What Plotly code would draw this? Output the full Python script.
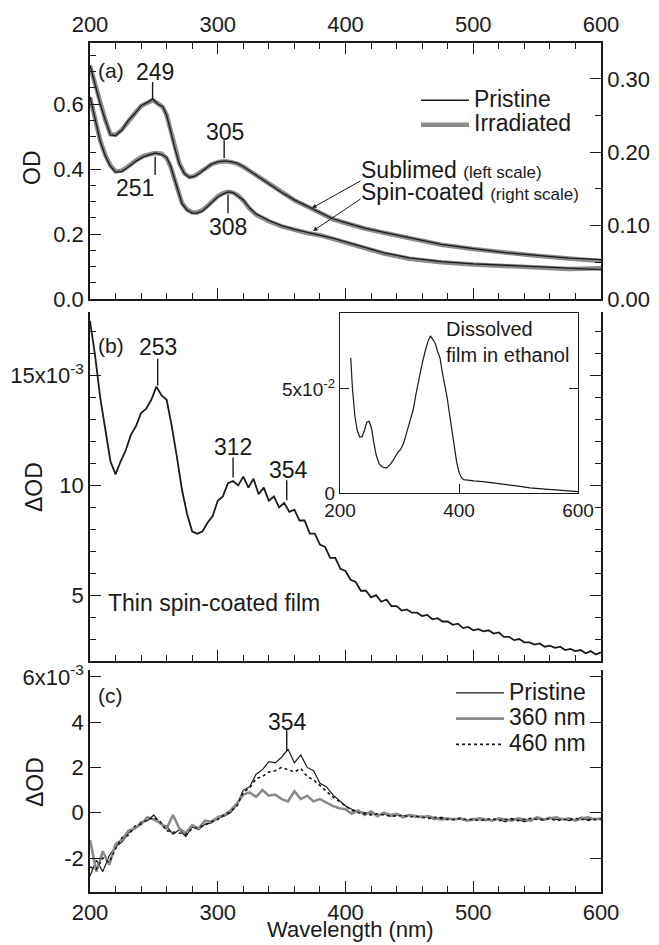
import plotly.graph_objects as go

# ---------------- data ----------------
# Panel (a): sublimed film (left scale, OD)
wl_sub = [200, 204, 208, 212, 216, 220, 225, 230, 235, 240, 245, 249, 253, 257, 260, 263, 266, 270,
          274, 278, 282, 286, 290, 295, 300, 305, 310, 315, 320, 325, 330, 335, 340, 350, 360, 370,
          380, 390, 400, 415, 430, 450, 475, 500, 525, 550, 575, 600]
sub_pristine = [0.72, 0.66, 0.60, 0.55, 0.505, 0.503, 0.52, 0.55, 0.57, 0.595, 0.605, 0.616, 0.60, 0.592,
                0.565, 0.52, 0.47, 0.415, 0.385, 0.374, 0.378, 0.388, 0.40, 0.415, 0.422, 0.425, 0.423,
                0.418, 0.408, 0.395, 0.382, 0.368, 0.355, 0.328, 0.305, 0.286, 0.266, 0.247, 0.235,
                0.218, 0.205, 0.188, 0.168, 0.155, 0.143, 0.134, 0.126, 0.121]
sub_irradiated = [0.718, 0.658, 0.601, 0.551, 0.507, 0.505, 0.521, 0.549, 0.571, 0.594, 0.604, 0.612, 0.602,
                  0.590, 0.566, 0.522, 0.471, 0.417, 0.386, 0.375, 0.379, 0.389, 0.401, 0.414, 0.421,
                  0.424, 0.422, 0.417, 0.407, 0.394, 0.381, 0.367, 0.354, 0.327, 0.304, 0.285, 0.265,
                  0.246, 0.234, 0.217, 0.204, 0.187, 0.167, 0.154, 0.142, 0.133, 0.125, 0.117]
# Panel (a): spin-coated film (right scale, OD)
wl_spin = [200, 204, 208, 212, 216, 220, 225, 230, 236, 242, 247, 251, 256, 260, 263, 266, 269, 272,
           276, 280, 284, 288, 292, 296, 300, 304, 308, 312, 316, 320, 325, 330, 340, 350, 360, 370,
           380, 390, 400, 415, 430, 450, 475, 500, 525, 550, 575, 600]
spin_pristine = [0.276, 0.245, 0.215, 0.195, 0.181, 0.173, 0.174, 0.180, 0.188, 0.194, 0.197, 0.199,
                 0.197, 0.193, 0.182, 0.165, 0.145, 0.130, 0.121, 0.117, 0.117, 0.120, 0.126, 0.133,
                 0.139, 0.143, 0.146, 0.145, 0.140, 0.135, 0.124, 0.116, 0.107, 0.100, 0.095, 0.091,
                 0.088, 0.083, 0.078, 0.071, 0.063, 0.056, 0.051, 0.048, 0.046, 0.044, 0.042, 0.040]
spin_irradiated = [0.275, 0.244, 0.216, 0.196, 0.182, 0.174, 0.175, 0.181, 0.189, 0.195, 0.198, 0.199,
                   0.198, 0.192, 0.181, 0.164, 0.146, 0.131, 0.122, 0.118, 0.118, 0.121, 0.127, 0.134,
                   0.140, 0.144, 0.146, 0.145, 0.141, 0.134, 0.123, 0.115, 0.106, 0.099, 0.094, 0.090,
                   0.087, 0.082, 0.077, 0.070, 0.062, 0.055, 0.050, 0.047, 0.045, 0.043, 0.041, 0.042]

# Panel (b): thin spin-coated film, dOD in units of 1e-3
wl_b = list(range(200, 601, 4))
dod_b = [17.5, 15.9, 14.0, 12.6, 11.1, 10.5, 11.1, 11.6, 12.3, 12.7,
         13.3, 13.5, 13.9, 14.5, 14.1, 13.9, 12.7, 11.3, 9.8, 8.7,
         7.9, 7.8, 7.9, 8.3, 8.6, 9.3, 9.5, 10.1, 10.2, 10.0,
         10.4, 9.9, 10.3, 9.6, 9.9, 9.3, 9.5, 9.0, 9.2, 8.8,
         8.9, 8.4, 8.4, 7.8, 7.8, 7.3, 7.2, 6.7, 6.7, 6.2,
         6.1, 5.7, 5.6, 5.2, 5.2, 4.9, 5.0, 4.7, 4.8, 4.5,
         4.5, 4.3, 4.35, 4.2, 4.2, 4.05, 4.1, 3.9, 3.95, 3.8,
         3.8, 3.65, 3.7, 3.5, 3.55, 3.4, 3.45, 3.35, 3.4, 3.25,
         3.3, 3.1, 3.1, 2.95, 3.0, 2.85, 2.85, 2.75, 2.8, 2.65,
         2.7, 2.6, 2.65, 2.5, 2.55, 2.45, 2.5, 2.35, 2.45, 2.3, 2.4]

# Inset: dissolved film in ethanol (OD)
wl_inset = [218, 221, 225, 229, 233, 237, 241, 245, 249, 253, 257, 261, 266, 271, 278, 284, 290, 296,
            302, 307, 312, 318, 323, 328, 333, 338, 343, 348, 352, 356, 360, 364, 368, 372, 376, 380,
            384, 388, 392, 396, 400, 404, 408, 415, 425, 440, 463, 480, 500, 519, 540, 560, 580, 600]
od_inset = [0.065, 0.050, 0.037, 0.030, 0.027, 0.027, 0.030, 0.034, 0.0345, 0.031, 0.024, 0.018,
            0.014, 0.0125, 0.012, 0.0135, 0.016, 0.019, 0.021, 0.024, 0.029, 0.035, 0.040, 0.048,
            0.056, 0.062, 0.068, 0.073, 0.0755, 0.074, 0.072, 0.068, 0.065, 0.058, 0.052, 0.046,
            0.038, 0.030, 0.022, 0.015, 0.010, 0.0075, 0.0064, 0.006, 0.0058, 0.0055, 0.0048, 0.004,
            0.0033, 0.0025, 0.002, 0.0015, 0.001, 0.0007]

# Panel (c): dOD in units of 1e-3
wl_c = list(range(200, 601, 5))
dod_pristine = [-2.8, -2.1, -2.6, -1.9, -1.5, -1.3, -0.9, -0.7, -0.4, -0.35,
                -0.1, -0.5, -0.6, -0.95, -0.75, -1.05, -0.6, -0.75, -0.5, -0.45,
                -0.25, -0.15, 0.0, 0.35, 1.0, 1.15, 1.7, 1.9, 2.25, 2.2,
                2.45, 2.8, 2.2, 2.55, 2.0, 1.85, 1.3, 1.15, 0.8, 0.55,
                0.3, 0.15, 0.05, 0.0, -0.05, -0.1, -0.05, -0.15, -0.1, -0.15,
                -0.1, -0.2, -0.15, -0.2, -0.3, -0.2, -0.3, -0.25, -0.3, -0.35,
                -0.25, -0.3, -0.35, -0.3, -0.3, -0.4, -0.25, -0.3, -0.4, -0.3,
                -0.25, -0.35, -0.2, -0.3, -0.25, -0.35, -0.3, -0.2, -0.35, -0.25, -0.3]
dod_360 = [-1.2, -2.6, -1.7, -2.3, -1.4, -1.2, -0.8, -0.7, -0.5, -0.2,
           -0.3, -0.45, -0.7, -0.1, -0.7, -0.9, -0.55, -0.7, -0.35, -0.4,
           -0.2, -0.1, 0.1, 0.4, 0.8, 0.9, 0.7, 1.0, 0.75, 0.8,
           0.6, 0.5, 0.95, 0.6, 0.75, 0.5, 0.6, 0.45, 0.3, 0.2,
           0.15, -0.05, 0.1, -0.1, 0.05, -0.15, 0.0, -0.1, -0.05, -0.2,
           -0.1, -0.15, -0.2, -0.15, -0.25, -0.3, -0.25, -0.3, -0.25, -0.35,
           -0.3, -0.25, -0.3, -0.35, -0.25, -0.3, -0.35, -0.25, -0.3, -0.35,
           -0.2, -0.3, -0.25, -0.2, -0.3, -0.25, -0.35, -0.25, -0.2, -0.3, -0.25]
dod_460 = [-2.4, -2.5, -2.0, -2.2, -1.6, -1.1, -1.0, -0.6, -0.5, -0.3,
           -0.2, -0.4, -0.8, -0.85, -0.9, -0.95, -0.7, -0.65, -0.55, -0.4,
           -0.3, -0.1, 0.05, 0.3, 0.9, 1.1, 1.5, 1.6, 1.8, 1.85,
           2.0, 1.9, 1.8, 1.95, 1.6, 1.45, 1.2, 0.95, 0.7, 0.5,
           0.3, 0.1, 0.0, -0.05, -0.1, -0.05, -0.1, -0.15, -0.15, -0.1,
           -0.2, -0.15, -0.2, -0.25, -0.2, -0.25, -0.3, -0.3, -0.25, -0.3,
           -0.3, -0.35, -0.3, -0.25, -0.35, -0.3, -0.3, -0.35, -0.3, -0.25,
           -0.3, -0.3, -0.25, -0.35, -0.3, -0.3, -0.25, -0.3, -0.3, -0.3, -0.3]

# ---------------- layout helpers ----------------
W, H = 659, 945
def px(x): return x / W
def py(y): return 1 - y / H

FONT = "Liberation Sans, Arial, Helvetica, sans-serif"
INK = "#1a1a1a"
GRAY = "#8a8a8a"
TFS = 22   # tick label size
LFS = 23   # other text size
XD = [px(90), px(601)]

def big(s):
    return "<span style='font-size:%dpx'>%s</span>" % (LFS, s)

fig = go.Figure()

# Panel (a)
fig.add_trace(go.Scatter(x=wl_sub, y=sub_irradiated, xaxis="x", yaxis="y", mode="lines",
                         line=dict(color=GRAY, width=4.5), name=big("Irradiated"), legend="legend", legendrank=2))
fig.add_trace(go.Scatter(x=wl_sub, y=sub_pristine, xaxis="x", yaxis="y", mode="lines",
                         line=dict(color=INK, width=1.3), name=big("Pristine"), legend="legend", legendrank=1))
fig.add_trace(go.Scatter(x=wl_spin, y=spin_irradiated, xaxis="x", yaxis="y2", mode="lines",
                         line=dict(color=GRAY, width=4.5), showlegend=False))
fig.add_trace(go.Scatter(x=wl_spin, y=spin_pristine, xaxis="x", yaxis="y2", mode="lines",
                         line=dict(color=INK, width=1.3), showlegend=False))
# Panel (b)
fig.add_trace(go.Scatter(x=wl_b, y=dod_b, xaxis="x2", yaxis="y3", mode="lines",
                         line=dict(color=INK, width=1.8), showlegend=False))
# Inset
fig.add_trace(go.Scatter(x=wl_inset, y=od_inset, xaxis="x4", yaxis="y5", mode="lines",
                         line=dict(color=INK, width=1.2), showlegend=False))
# Panel (c)
fig.add_trace(go.Scatter(x=wl_c, y=dod_pristine, xaxis="x3", yaxis="y4", mode="lines",
                         line=dict(color=INK, width=1.2), name=big("Pristine"), legend="legend2", legendrank=1))
fig.add_trace(go.Scatter(x=wl_c, y=dod_360, xaxis="x3", yaxis="y4", mode="lines",
                         line=dict(color=GRAY, width=2.6), name=big("360 nm"), legend="legend2", legendrank=2))
fig.add_trace(go.Scatter(x=wl_c, y=dod_460, xaxis="x3", yaxis="y4", mode="lines",
                         line=dict(color=INK, width=1.6, dash="dot"), name=big("460 nm"), legend="legend2", legendrank=3))

tickfont = dict(size=TFS, color=INK, family=FONT)
def xax(**kw):
    d = dict(domain=XD, range=[200, 600], tick0=0, dtick=100, ticks="inside", ticklen=11, tickwidth=1.3,
             tickcolor=INK, showline=True, linecolor=INK, linewidth=1.5, showgrid=False, zeroline=False,
             automargin=False,
             minor=dict(dtick=20, tick0=0, ticklen=6, ticks="inside", tickcolor=INK, tickwidth=1.2),
             tickfont=tickfont)
    d.update(kw)
    return d

def yax(**kw):
    d = dict(ticks="inside", ticklen=11, tickwidth=1.3, tickcolor=INK, showline=True, linecolor=INK,
             linewidth=1.5, showgrid=False, zeroline=False, tickfont=tickfont, automargin=False)
    d.update(kw)
    return d

fig.update_layout(
    width=W, height=H, margin=dict(l=0, r=0, t=0, b=0, pad=0, autoexpand=False),
    paper_bgcolor="white", plot_bgcolor="white",
    font=dict(family=FONT, color=INK, size=LFS),
    xaxis=xax(anchor="y", side="top", mirror="ticks"),
    yaxis=yax(domain=[py(299), py(43)], anchor="x", range=[0, 0.788], dtick=0.2, tick0=0,
              tickformat=".1f", minor=dict(dtick=0.05, ticklen=6, ticks="inside", tickcolor=INK)),
    yaxis2=yax(overlaying="y", side="right", anchor="x", range=[0, 0.349], dtick=0.1, tick0=0,
               tickformat=".2f", minor=dict(dtick=0.05, ticklen=6, ticks="inside", tickcolor=INK)),
    xaxis2=xax(anchor="y3", showticklabels=False),
    yaxis3=yax(domain=[py(661), py(312)], anchor="x2", range=[2.0, 17.9], dtick=5, tick0=0, mirror="ticks",
               labelalias={"15": "15x10<sup>-3</sup>"},
               minor=dict(dtick=1, tick0=0, ticklen=6, ticks="inside", tickcolor=INK)),
    xaxis3=xax(anchor="y4"),
    yaxis4=yax(domain=[py(892), py(670)], anchor="x3", range=[-3.5, 6.3], dtick=2, tick0=0, mirror="ticks",
               labelalias={"6": "6x10<sup>-3</sup>", "\u22122": "-2"}),
    xaxis4=dict(domain=[px(340), px(578)], anchor="y5", range=[200, 600], dtick=200, tick0=0,
                ticks="inside", ticklen=9, tickcolor=INK, showline=True, linecolor=INK, linewidth=1.3,
                mirror=True, showgrid=False, zeroline=False, automargin=False,
                tickfont=dict(size=19, color=INK, family=FONT)),
    yaxis5=dict(domain=[py(493), py(313)], anchor="x4", range=[0, 0.0865], dtick=0.05, tick0=0,
                ticks="inside", ticklen=9, tickcolor=INK, showline=True, linecolor=INK, linewidth=1.3,
                mirror="ticks", showgrid=False, zeroline=False, automargin=False,
                labelalias={"0.05": "5x10<sup>-2</sup>"}, tickfont=dict(size=19, color=INK, family=FONT)),
    legend=dict(x=px(416), y=py(83), xanchor="left", yanchor="top", bgcolor="rgba(0,0,0,0)",
                font=dict(size=16.5, family=FONT, color=INK), tracegroupgap=0, itemwidth=48),
    legend2=dict(x=px(451), y=py(675), xanchor="left", yanchor="top", bgcolor="rgba(0,0,0,0)",
                 font=dict(size=17.5, family=FONT, color=INK), tracegroupgap=0, itemwidth=48),
)

# Text labels
def txt(x, y, s, xa="center", size=LFS, angle=0, ya="middle"):
    return dict(xref="paper", yref="paper", x=px(x), y=py(y), text=s, showarrow=False,
                xanchor=xa, yanchor=ya, textangle=angle, align="left",
                font=dict(size=size, family=FONT, color=INK))

ann = [
    txt(96, 70, "(a)", xa="left", size=21),
    txt(155, 72, "249"), txt(225, 132, "305"), txt(135, 188, "251"), txt(228, 227, "308"),
    txt(359, 170, "Sublimed <span style='font-size:17px'>(left scale)</span>", xa="left"),
    txt(359, 192, "Spin-coated <span style='font-size:17px'>(right scale)</span>", xa="left"),
    txt(96, 345, "(b)", xa="left", size=21),
    txt(158, 347, "253"), txt(233, 447, "312"), txt(288, 470, "354"),
    txt(106, 603, "Thin spin-coated film", xa="left"),
    txt(444, 316, "Dissolved<br>film in ethanol", xa="left", size=20, ya="top"),
    txt(96, 695, "(c)", xa="left", size=21),
    txt(287, 722, "354"),
    txt(32, 168, "OD", angle=-90),
    txt(34, 487, "\u0394OD", angle=-90),
    txt(35, 782, "\u0394OD", angle=-90),
    txt(350, 929, "Wavelength (nm)", size=22),
]
# arrows to sublimed / spin-coated curves
ann.append(dict(xref="x", yref="y", x=373.8, y=0.28, ax=50, ay=-28, text="", showarrow=True,
                arrowhead=2, arrowsize=0.9, arrowwidth=1, arrowcolor=INK))
ann.append(dict(xref="x", yref="y2", x=374.6, y=0.0928, ax=49, ay=-33, text="", showarrow=True,
                arrowhead=2, arrowsize=0.9, arrowwidth=1, arrowcolor=INK))
fig.update_layout(annotations=ann)

# peak marker lines
def vline(x, y0, y1, yref, xref="x"):
    return dict(type="line", xref=xref, yref=yref, x0=x, x1=x, y0=y0, y1=y1,
                line=dict(color=INK, width=1.4))

fig.update_layout(shapes=[
    vline(249, 0.668, 0.618, "y"), vline(305, 0.489, 0.434, "y"),
    vline(251, 0.194, 0.169, "y2"), vline(308, 0.142, 0.117, "y2"),
    vline(253, 15.77, 14.55, "y3", "x2"), vline(312, 11.27, 10.36, "y3", "x2"),
    vline(354, 10.23, 9.32, "y3", "x2"),
    vline(354, 3.64, 2.73, "y4", "x3"),
])

fig.write_html("out.html")
